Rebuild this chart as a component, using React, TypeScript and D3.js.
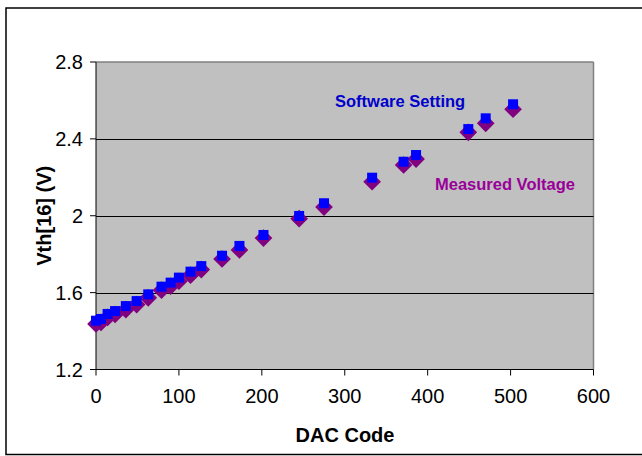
import React from "react";
import * as d3 from "d3";

const dacCodes = [0, 6, 14, 23, 36, 49, 63, 79, 90, 100, 114, 127, 152, 173, 202, 245, 275, 333, 371, 386, 449, 470, 503];
const softwareSetting = [1.454, 1.463, 1.489, 1.504, 1.530, 1.556, 1.591, 1.631, 1.652, 1.678, 1.709, 1.738, 1.792, 1.843, 1.900, 1.999, 2.065, 2.198, 2.281, 2.316, 2.451, 2.507, 2.580];
const measuredVoltage = [1.437, 1.445, 1.471, 1.486, 1.512, 1.538, 1.573, 1.613, 1.633, 1.659, 1.691, 1.720, 1.775, 1.822, 1.884, 1.985, 2.045, 2.177, 2.264, 2.295, 2.434, 2.481, 2.554];
const xTicks = [0, 100, 200, 300, 400, 500, 600];
const yTicks = [1.2, 1.6, 2.0, 2.4, 2.8];
const xTitle = "DAC Code";
const yTitle = "Vth[16] (V)";
const seriesNames = ["Software Setting", "Measured Voltage"];

export default function App() {
  const W = 642, H = 456;
  const left = 96, right = 593.5, top = 62, bottom = 369.5;
  const x = d3.scaleLinear().domain([0, 600]).range([left, right]);
  const y = d3.scaleLinear().domain([1.2, 2.8]).range([bottom, top]);
  const font = "Arial, 'Liberation Sans', sans-serif";
  const diamond = d3.symbol().type(d3.symbolSquare).size(12.5 * 12.5)();
  return (
    <svg width={W} height={H} style={{ position: "absolute", left: 0, top: 0, display: "block" }}>
      <rect x={0} y={0} width={W} height={H} fill="#fff" />
      <rect x={6} y={8} width={W + 10} height={446.5} fill="none" stroke="#000" strokeWidth={1.5} />
      <rect x={left} y={top} width={right - left} height={bottom - top} fill="#C0C0C0" />
      <line x1={left} x2={right} y1={top} y2={top} stroke="#808080" strokeWidth={1.5} />
      <line x1={right} x2={right} y1={top} y2={bottom} stroke="#808080" strokeWidth={1.5} />
      {yTicks.filter(t => t > 1.2 && t < 2.8).map(t => (
        <line key={"g" + t} x1={left} x2={right} y1={Math.round(y(t)) + 0.5} y2={Math.round(y(t)) + 0.5} stroke="#000" strokeWidth={1} />
      ))}
      <line x1={left} x2={left} y1={top} y2={bottom} stroke="#000" strokeWidth={1} />
      <line x1={left} x2={right} y1={bottom} y2={bottom} stroke="#000" strokeWidth={1} />
      {yTicks.map(t => (
        <g key={"y" + t}>
          <line x1={left - 6} x2={left} y1={y(t)} y2={y(t)} stroke="#000" />
          <text x={83} y={y(t)} dy="0.36em" textAnchor="end" fontFamily={font} fontSize={20}>
            {d3.format(".1~f")(t)}
          </text>
        </g>
      ))}
      {xTicks.map(t => (
        <g key={"x" + t}>
          <line x1={x(t)} x2={x(t)} y1={bottom} y2={bottom + 6} stroke="#000" />
          <text x={x(t)} y={403} textAnchor="middle" fontFamily={font} fontSize={20}>
            {t}
          </text>
        </g>
      ))}
      {dacCodes.map((d, i) => (
        <path key={"m" + i} d={diamond} transform={`translate(${x(d)},${y(measuredVoltage[i])}) rotate(45)`} fill="#800080" />
      ))}
      {dacCodes.map((d, i) => (
        <rect key={"s" + i} x={x(d) - 5} y={y(softwareSetting[i]) - 5} width={10} height={10} fill="#0000FF" />
      ))}
      <text x={335} y={107} fontFamily={font} fontSize={16.5} fontWeight="bold" fill="#0000CC">{seriesNames[0]}</text>
      <text x={435} y={190} fontFamily={font} fontSize={16.5} fontWeight="bold" fill="#990099">{seriesNames[1]}</text>
      <text x={345} y={442} textAnchor="middle" fontFamily={font} fontSize={20} fontWeight="bold">{xTitle}</text>
      <text transform={`translate(51,${(top + bottom) / 2}) rotate(-90)`} textAnchor="middle" fontFamily={font} fontSize={20} fontWeight="bold">{yTitle}</text>
    </svg>
  );
}
